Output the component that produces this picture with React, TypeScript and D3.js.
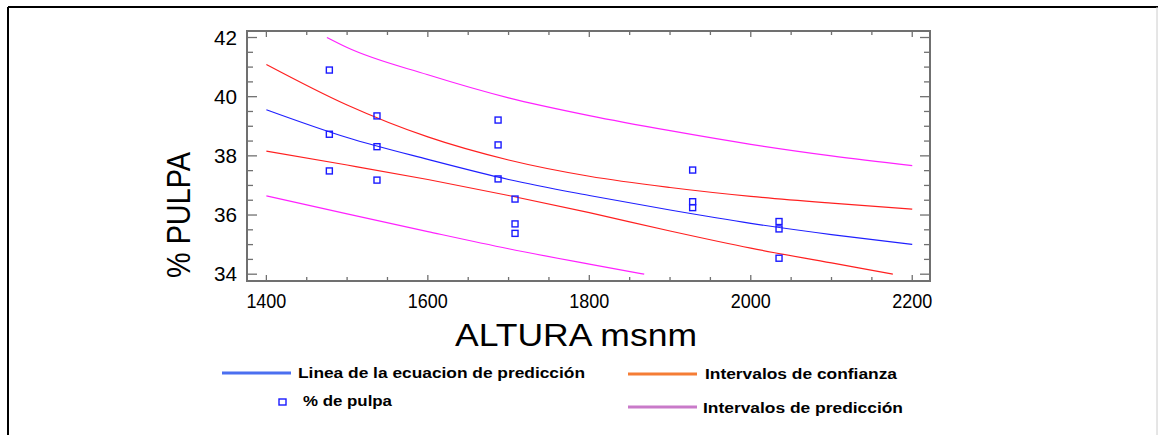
import React from "react";
import * as d3 from "d3";

// Observed data: altitude (msnm) and % pulp
const obsAltura = [1478, 1478, 1478, 1537, 1537, 1537, 1687, 1687, 1687, 1708, 1708, 1708, 1928, 1928, 1928, 2035, 2035, 2035];
const obsPulpa = [40.9, 38.73, 37.49, 39.35, 38.31, 37.18, 39.21, 38.37, 37.22, 36.54, 35.7, 35.38, 37.52, 36.45, 36.25, 35.78, 35.53, 34.54];

// Fitted line (prediction equation)
const fitX = [1400, 1500, 1600, 1700, 1800, 1900, 2000, 2100, 2200];
const fitY = [39.56, 38.62, 37.88, 37.2, 36.66, 36.17, 35.72, 35.34, 35.01];

// Confidence interval limits
const confUpX = [1400, 1500, 1600, 1700, 1800, 1900, 2000, 2100, 2200];
const confUpY = [41.09, 39.72, 38.64, 37.86, 37.31, 36.93, 36.63, 36.4, 36.2];
const confLoX = [1400, 1500, 1600, 1700, 1800, 1900, 2000, 2100, 2176];
const confLoY = [38.16, 37.69, 37.2, 36.66, 36.08, 35.46, 34.88, 34.38, 34.0];

// Prediction interval limits
const predUpX = [1475, 1500, 1600, 1700, 1800, 1900, 2000, 2100, 2200];
const predUpY = [42.0, 41.66, 40.74, 39.96, 39.36, 38.85, 38.39, 38.0, 37.67];
const predLoX = [1400, 1500, 1600, 1700, 1800, 1868];
const predLoY = [36.65, 36.04, 35.44, 34.86, 34.34, 34.0];

const xTickLabels = [1400, 1600, 1800, 2000, 2200];
const yTickLabels = [34, 36, 38, 40, 42];

const legendItems = [
  "Linea de la ecuacion de predicción",
  "Intervalos de confianza",
  "% de pulpa",
  "Intervalos de predicción",
];

const W = 1158;
const H = 435;
const L = 247, R = 930, T = 31, B = 281;

export default function App() {
  const x = d3.scaleLinear().domain([1376, 2222]).range([L, R]);
  const y = d3.scaleLinear().domain([33.77, 42.22]).range([B, T]);

  const line = (xs: number[], ys: number[]) =>
    d3
      .line<number>()
      .x((_, i) => x(xs[i]))
      .y((d) => y(d))
      .curve(d3.curveMonotoneX)(ys) || "";

  const xMinor = d3.range(1400, 2201, 50);
  const yMinor = d3.range(34, 42.01, 0.5);
  const axisColor = "#707070";
  const font = "Liberation Sans, Arial, sans-serif";

  return (
    <svg
      width={W}
      height={H}
      style={{ position: "absolute", left: 0, top: 0, background: "#fff" }}
      fontFamily={font}
    >
      {/* outer frame */}
      <line x1={8} y1={7} x2={W} y2={7} stroke="#000" strokeWidth={2} />
      <line x1={8} y1={7} x2={8} y2={H} stroke="#000" strokeWidth={2} />
      <line x1={1157} y1={7} x2={1157} y2={H} stroke="#ccc" strokeWidth={1} />

      {/* ticks */}
      {xMinor.map((v) => {
        const major = v % 200 === 0;
        const len = major ? 6 : 4;
        return (
          <g key={"xt" + v}>
            <line x1={x(v)} x2={x(v)} y1={T} y2={T + len} stroke={axisColor} strokeWidth={1.3} />
            <line x1={x(v)} x2={x(v)} y1={B} y2={B - len} stroke={axisColor} strokeWidth={1.3} />
          </g>
        );
      })}
      {yMinor.map((v) => {
        const major = Math.abs(v % 2) < 1e-6;
        const len = major ? 10 : 6;
        return (
          <g key={"yt" + v}>
            <line x1={L} x2={L + len} y1={y(v)} y2={y(v)} stroke={axisColor} strokeWidth={1.3} />
            <line x1={R} x2={R - len} y1={y(v)} y2={y(v)} stroke={axisColor} strokeWidth={1.3} />
          </g>
        );
      })}

      {/* curves */}
      <path d={line(predUpX, predUpY)} fill="none" stroke="#ff22ff" strokeWidth={1.2} />
      <path d={line(predLoX, predLoY)} fill="none" stroke="#ff22ff" strokeWidth={1.2} />
      <path d={line(confUpX, confUpY)} fill="none" stroke="#ff2020" strokeWidth={1.2} />
      <path d={line(confLoX, confLoY)} fill="none" stroke="#ff2020" strokeWidth={1.2} />
      <path d={line(fitX, fitY)} fill="none" stroke="#2020ff" strokeWidth={1.2} />

      {/* points */}
      {obsAltura.map((a, i) => (
        <rect
          key={"p" + i}
          x={x(a) - 3}
          y={y(obsPulpa[i]) - 3}
          width={6}
          height={6}
          fill="none"
          stroke="#1a1aff"
          strokeWidth={1.4}
        />
      ))}

      {/* plot frame */}
      <rect x={L} y={T} width={R - L} height={B - T} fill="none" stroke={axisColor} strokeWidth={2} />

      {/* tick labels */}
      {xTickLabels.map((v) => (
        <text key={"xl" + v} x={x(v)} y={308} fontSize={20} textAnchor="middle" fill="#000"
          textLength={40} lengthAdjust="spacingAndGlyphs">
          {v}
        </text>
      ))}
      {yTickLabels.map((v) => (
        <text key={"yl" + v} x={237} y={y(v) + 7} fontSize={20} textAnchor="end" fill="#000"
          textLength={23} lengthAdjust="spacingAndGlyphs">
          {v}
        </text>
      ))}

      {/* axis titles */}
      <text x={455} y={346} fontSize={32} fill="#000" textLength={242} lengthAdjust="spacingAndGlyphs">
        ALTURA msnm
      </text>
      <text
        transform={`translate(190,278) rotate(-90)`}
        fontSize={33}
        fill="#000"
        textLength={126}
        lengthAdjust="spacingAndGlyphs"
      >
        % PULPA
      </text>

      {/* legend */}
      <line x1={222} x2={291} y1={373} y2={373} stroke="#4b6ff0" strokeWidth={3} />
      <text x={298} y={378} fontSize={14} fontWeight="bold" fill="#000" textLength={287} lengthAdjust="spacingAndGlyphs">
        {legendItems[0]}
      </text>
      <line x1={628} x2={697} y1={374} y2={374} stroke="#f57d35" strokeWidth={3} />
      <text x={705} y={379} fontSize={14} fontWeight="bold" fill="#000" textLength={192} lengthAdjust="spacingAndGlyphs">
        {legendItems[1]}
      </text>
      <rect x={279} y={399} width={7} height={6} fill="none" stroke="#1a1aff" strokeWidth={1.4} />
      <text x={303} y={406} fontSize={14} fontWeight="bold" fill="#000" textLength={89} lengthAdjust="spacingAndGlyphs">
        {legendItems[2]}
      </text>
      <line x1={628} x2={697} y1={407} y2={407} stroke="#c97ac9" strokeWidth={3} />
      <text x={703} y={413} fontSize={14} fontWeight="bold" fill="#000" textLength={200} lengthAdjust="spacingAndGlyphs">
        {legendItems[3]}
      </text>
    </svg>
  );
}
